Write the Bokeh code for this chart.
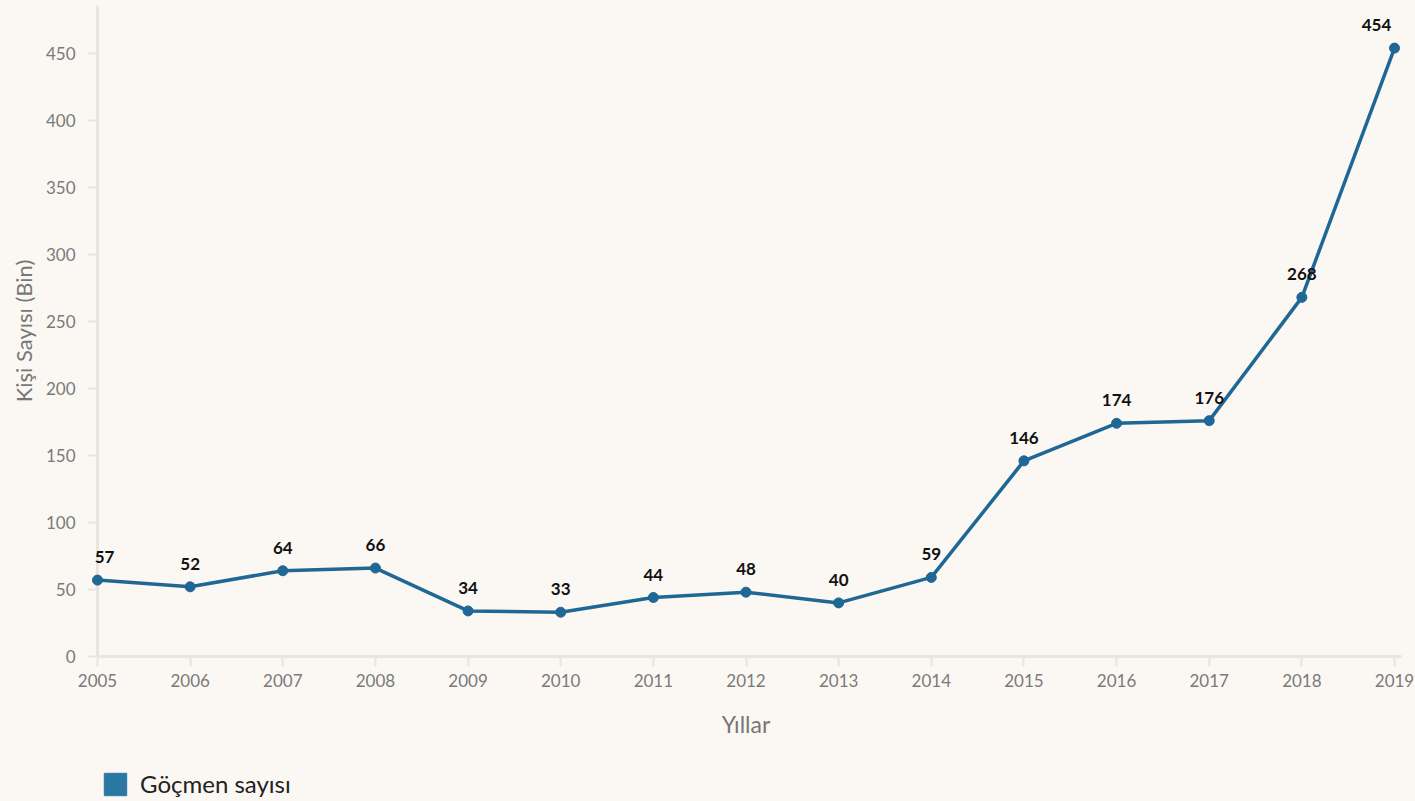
from bokeh.plotting import figure
from bokeh.layouts import column
from bokeh.models import ColumnDataSource, FixedTicker, Legend, LegendItem, Range1d, Span
from bokeh.embed import file_html
from bokeh.resources import INLINE
from bokeh.core.properties import value

years = [2005, 2006, 2007, 2008, 2009, 2010, 2011, 2012, 2013, 2014, 2015, 2016, 2017, 2018, 2019]
migrants = [57, 52, 64, 66, 34, 33, 44, 48, 40, 59, 146, 174, 176, 268, 454]
y_ticks = [0, 50, 100, 150, 200, 250, 300, 350, 400, 450]
series_name = "Göçmen sayısı"
x_title = "Yıllar"
y_title = "Kişi Sayısı (Bin)"

BG = "#FBF8F4"
LINE = "#1F6794"
SWATCH = "#2A77A3"
AXIS = "#E8E5E1"
FONT = "Lato"

labels = [str(v) for v in migrants]
x_off = [0] * len(years)
x_off[0] = 7
x_off[-1] = -18
src = ColumnDataSource(dict(x=years, y=migrants, lab=labels, xo=x_off))

# small padding (in px) so that end markers are not clipped by the frame
pad_px = 7
span_px = 1297.0
yrs = years[-1] - years[0]
pad = pad_px * yrs / span_px
frame_left = 97 - pad_px

p = figure(width=1415, height=760, output_backend="svg", toolbar_location=None,
           x_range=Range1d(years[0] - pad, years[-1] + pad), y_range=Range1d(0, 485.8),
           min_border_left=frame_left, min_border_right=21 - pad_px, min_border_top=5,
           min_border_bottom=104,
           background_fill_color=BG, border_fill_color=BG, outline_line_color=None)
p.grid.visible = False

# y axis line drawn at the first year, beneath the data
p.add_layout(Span(location=years[0], dimension="height", line_color=AXIS, line_width=3,
                  level="underlay"))

p.line("x", "y", source=src, line_color=LINE, line_width=3.5)
p.scatter("x", "y", source=src, size=10, fill_color=LINE, line_color=LINE)
p.text("x", "y", text="lab", source=src, x_offset="xo", y_offset=-23,
       text_align="center", text_baseline="middle", text_font=value(FONT),
       text_font_style="bold", text_font_size="17px", text_color="#111111")

for ax in (p.xaxis[0], p.yaxis[0]):
    ax.axis_line_color = AXIS
    ax.axis_line_width = 3
    ax.major_tick_line_color = AXIS
    ax.major_tick_line_width = 2
    ax.major_tick_out = 10
    ax.major_tick_in = 0
    ax.minor_tick_line_color = None
    ax.major_label_text_font = FONT
    ax.major_label_text_font_size = "17px"
    ax.major_label_text_color = "#7A7A7A"
    ax.axis_label_text_font = FONT
    ax.axis_label_text_font_style = "normal"
    ax.axis_label_text_color = "#777777"

p.yaxis.axis_line_color = None
p.yaxis.major_tick_out = 3
p.yaxis.major_tick_in = 7
p.xaxis.bounds = (years[0], years[-1] + pad)

p.xaxis.ticker = FixedTicker(ticks=years)
p.yaxis.ticker = FixedTicker(ticks=y_ticks)
p.xaxis.axis_label = x_title
p.yaxis.axis_label = y_title
p.xaxis.axis_label_text_font_size = "23px"
p.yaxis.axis_label_text_font_size = "22px"
p.xaxis.major_label_standoff = 7
p.yaxis.major_label_standoff = 12
p.xaxis.axis_label_standoff = 20
p.yaxis.axis_label_standoff = 6

# legend strip below the chart (its frame is aligned with the chart's frame)
lg = figure(width=1415, height=41, output_backend="svg", toolbar_location=None,
            x_range=Range1d(0, 1), y_range=Range1d(0, 1),
            min_border=0, background_fill_color=BG, border_fill_color=BG,
            outline_line_color=None)
lg.axis.visible = False
lg.grid.visible = False
# proxy renderer for the legend swatch, kept outside the visible range
sw = lg.quad(left=[-3], right=[-2], top=[-2], bottom=[-3], fill_color=SWATCH, line_color=SWATCH)
legend = Legend(items=[LegendItem(label=series_name, renderers=[sw])],
                location=(101 - frame_left, 3), orientation="horizontal",
                background_fill_alpha=0, border_line_color=None,
                label_text_font=FONT, label_text_font_size="24px", label_text_color="#222222",
                glyph_width=28, glyph_height=28, margin=0, padding=0, label_standoff=11,
                label_height=28)
lg.add_layout(legend, "center")

layout = column(p, lg, spacing=0)
html = file_html(layout, INLINE)
html = html.replace("<head>", "<head><style>html,body{background:%s;}</style>" % BG, 1)
open("out.html", "w").write(html)
